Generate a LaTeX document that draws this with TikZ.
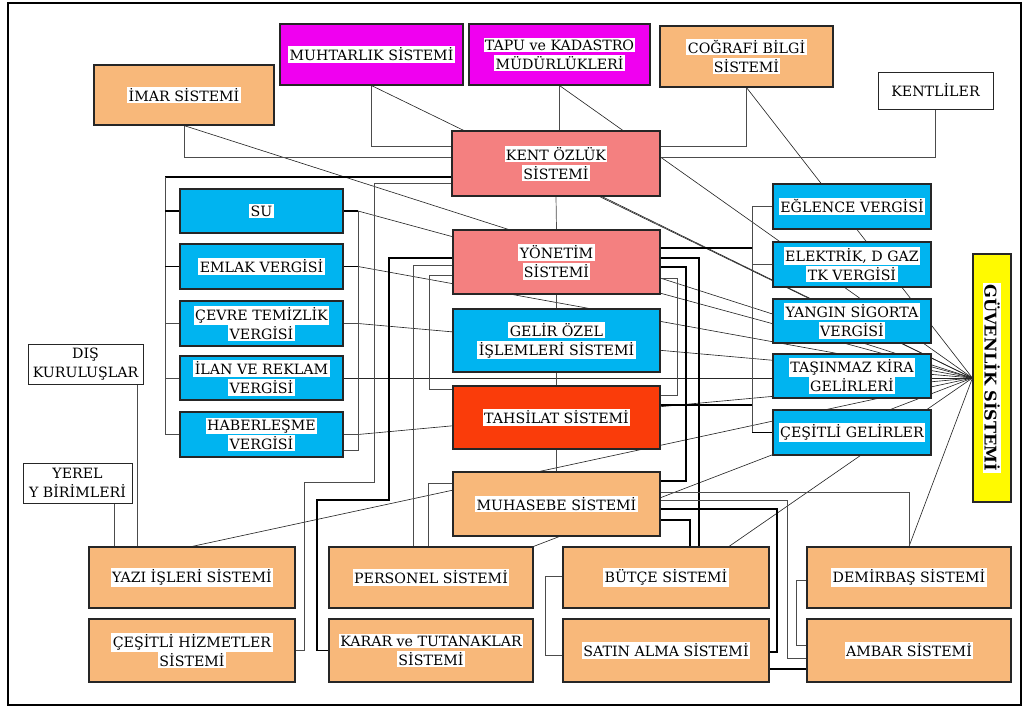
\documentclass[tikz,border=0pt]{standalone}
\usepackage{fontspec}
\setmainfont{DejaVu Serif}
\usepackage{tikz}
\usetikzlibrary{calc}
\pgfdeclarelayer{bg}
\pgfsetlayers{bg,main}
\definecolor{turuncu}{RGB}{248,184,122}
\definecolor{pembe}{RGB}{244,128,128}
\definecolor{mavi}{RGB}{0,180,240}
\definecolor{kirmizi}{RGB}{250,60,10}
\definecolor{mor}{RGB}{240,0,240}
\definecolor{sari}{RGB}{255,250,0}
\newcommand{\wb}[1]{{\setlength{\fboxsep}{1pt}\colorbox{white}{#1}}}

\begin{document}
\begin{tikzpicture}[x=0.025cm, y=-0.025cm,
  kutu/.style={draw=black!85, line width=0.8pt, align=center, inner sep=1pt,
    font=\fontsize{10.1}{13.5}\selectfont},
  wh/.style 2 args={minimum width=#1*0.025cm, minimum height=#2*0.025cm},
  turkutu/.style={kutu, fill=turuncu},
  pembekutu/.style={kutu, fill=pembe},
  mavikutu/.style={kutu, fill=mavi, line width=1pt},
  morkutu/.style={kutu, fill=mor},
  beyazkutu/.style={kutu, fill=white, line width=0.5pt},
  tel/.style={line width=0.5pt, black!70},
  kalintel/.style={line width=0.9pt, black},
  guvtel/.style={line width=0.45pt, black!85}]
  \useasboundingbox (0,0) rectangle (1025,708);
  \draw[line width=1.6pt] (8,3) rectangle (1021,705);

  % ust sira
  \node[morkutu, wh={183}{61}] (muhtar) at (371.5,54.5) {\wb{MUHTARLIK SİSTEMİ}};
  \node[morkutu, wh={181}{61}] (tapu) at (559.5,54.5) {\wb{TAPU ve KADASTRO}\\\wb{MÜDÜRLÜKLERİ}};
  \node[turkutu, wh={173}{61}] (cog) at (746.5,56.5) {\wb{COĞRAFİ BİLGİ}\\\wb{SİSTEMİ}};
  \node[beyazkutu, wh={115}{37}] (kentli) at (935.5,90.5) {KENTLİLER};
  \node[turkutu, wh={180}{60}] (imar) at (184,95) {\wb{İMAR SİSTEMİ}};

  % orta sutun
  \node[pembekutu, wh={208}{65}] (kent) at (556,163.5) {\wb{KENT ÖZLÜK}\\\wb{SİSTEMİ}};
  \node[pembekutu, wh={207}{64}] (yonetim) at (556.5,262) {\wb{YÖNETİM}\\\wb{SİSTEMİ}};
  \node[mavikutu, wh={207}{63}] (gelir) at (556.5,340.5) {\wb{GELİR ÖZEL}\\\wb{İŞLEMLERİ SİSTEMİ}};
  \node[kutu, fill=kirmizi, wh={207}{63}] (tahsilat) at (556.5,417.5) {\wb{TAHSİLAT SİSTEMİ}};
  \node[turkutu, wh={207}{64}] (muhasebe) at (556.5,504) {\wb{MUHASEBE SİSTEMİ}};

  % sol vergiler
  \node[mavikutu, wh={163}{44}] (su) at (261.5,211) {\wb{SU}};
  \node[mavikutu, wh={163}{45}] (emlak) at (261.5,266.5) {\wb{EMLAK VERGİSİ}};
  \node[mavikutu, wh={163}{45}] (cevre) at (261.5,323.5) {\wb{ÇEVRE TEMİZLİK}\\\wb{VERGİSİ}};
  \node[mavikutu, wh={163}{44}] (ilan) at (261.5,378) {\wb{İLAN VE REKLAM}\\\wb{VERGİSİ}};
  \node[mavikutu, wh={163}{45}] (hab) at (261.5,434.5) {\wb{HABERLEŞME}\\\wb{VERGİSİ}};
  \node[beyazkutu, wh={115}{40}] (dis) at (85.5,364) {DIŞ\\KURULUŞLAR};
  \node[beyazkutu, wh={109}{40}] (yerel) at (77.5,483) {YEREL\\Y BİRİMLERİ};

  % sag gelirler
  \node[mavikutu, wh={158}{45}] (eglence) at (852,206.5) {\wb{EĞLENCE VERGİSİ}};
  \node[mavikutu, wh={158}{45}] (elektrik) at (852,264.5) {\wb{ELEKTRİK, D GAZ}\\\wb{TK VERGİSİ}};
  \node[mavikutu, wh={158}{44}] (yangin) at (852,321) {\wb{YANGIN SİGORTA}\\\wb{VERGİSİ}};
  \node[mavikutu, wh={158}{44}] (tasinmaz) at (852,376) {\wb{TAŞINMAZ KİRA}\\\wb{GELİRLERİ}};
  \node[mavikutu, wh={158}{45}] (cesitli) at (852,432.5) {\wb{ÇEŞİTLİ GELİRLER}};
  \node[kutu, fill=sari, wh={38}{248}] (guv) at (992,378) {};
  \node[rotate=-90, fill=white, inner sep=1pt, font=\bfseries\fontsize{11.5}{13}\selectfont] (guvyazi) at (guv.center) {GÜVENLİK SİSTEMİ};

  % alt sira
  \node[turkutu, wh={206}{61}] (yazi) at (192,577.5) {\wb{YAZI İŞLERİ SİSTEMİ}};
  \node[turkutu, wh={206}{63}] (hizmet) at (192,650.5) {\wb{ÇEŞİTLİ HİZMETLER}\\\wb{SİSTEMİ}};
  \node[turkutu, wh={204}{61}] (pers) at (431,577.5) {\wb{PERSONEL SİSTEMİ}};
  \node[turkutu, wh={204}{63}] (karar) at (431,650.5) {\wb{KARAR ve TUTANAKLAR}\\\wb{SİSTEMİ}};
  \node[turkutu, wh={206}{61}] (butce) at (666,577.5) {\wb{BÜTÇE SİSTEMİ}};
  \node[turkutu, wh={206}{63}] (satin) at (666,650.5) {\wb{SATIN ALMA SİSTEMİ}};
  \node[turkutu, wh={204}{61}] (demir) at (909,577.5) {\wb{DEMİRBAŞ SİSTEMİ}};
  \node[turkutu, wh={204}{63}] (ambar) at (909,650.5) {\wb{AMBAR SİSTEMİ}};

  \coordinate (lb) at (165,0);
  \coordinate (rb) at (358,0);
  \coordinate (sb) at (752,0);

  \begin{pgfonlayer}{bg}
  % guvenlik hatlari
  \foreach \n/\a in {muhtar/south, tapu/south, cog/south, imar/south, yazi/north, demir/north, pers/north east}
    \draw[guvtel] (\n.\a) -- (guv.west);
  \foreach \n in {su, emlak, cevre, hab}
    \draw[guvtel] (\n.east -| rb) -- (guv.west);
  \draw[guvtel] (ilan.east) -- (guv.west);
  \draw[guvtel] ($(kent.south)+(46,0)$) -- (guv.west);
  \draw[guvtel] ($(butce.north)+(63,0)$) -- (guv.west);

  % ust baglantilar
  \draw[tel] (muhtar.south) |- (kent.west |- 0,146);
  \draw[tel] (imar.south) |- (kent.west |- 0,157);
  \draw[tel] (tapu.south) -- (tapu.south |- kent.north);
  \draw[tel] (cog.south) |- (kent.east |- 0,146);
  \draw[tel] (kentli.south) |- (kent.east |- 0,157);
  \draw[tel] (kent.south) -- (yonetim.north);
  \draw[tel] (yonetim.south) -- (gelir.north);
  \draw[tel] (gelir.south) -- (tahsilat.north);
  \draw[tel] (tahsilat.south) -- (muhasebe.north);

  % sol taraf
  \draw[kalintel] (kent.west |- 0,177) -- (lb |- 0,177);
  \draw[tel] (lb |- 0,177) |- (hab.west);
  \foreach \n in {su, emlak}
    \draw[kalintel] (\n.west) -- (\n.west -| lb);
  \foreach \n in {cevre, ilan}
    \draw[tel] (\n.west) -- (\n.west -| lb);
  \draw[tel] (su.east) -| (rb |- 0,450) -- (hab.east |- 0,450);
  \draw[kalintel] (su.east) -- (su.east -| rb);
  \draw[kalintel] (emlak.east) -- (emlak.east -| rb);
  \foreach \n in {cevre, hab}
    \draw[tel] (\n.east) -- (\n.east -| rb);
  \draw[tel] (kent.west |- 0,183) -| (374,482) -| (hizmet.east -| 304,0) -- (hizmet.east);
  \draw[kalintel] (yonetim.west |- 0,258) -| (389,500) -| (karar.west -| 317,0) -- (karar.west);
  \draw[tel] (yonetim.west |- 0,265) -| (pers.north -| 413,0);
  \draw[tel] (yonetim.west |- 0,275) -| (429,389) -- (tahsilat.west |- 0,389);
  \draw[tel] (muhasebe.west |- 0,483) -| (pers.north -| 428,0);
  \draw[tel] (dis.south -| 137,0) -- (yazi.north -| 137,0);
  \draw[tel] (yerel.south -| 114,0) -- (yazi.north -| 114,0);

  % sag taraf
  \draw[kalintel] (yonetim.east |- 0,248) -- (sb |- 0,248);
  \draw[tel] (eglence.west) -| (cesitli.west -| sb);
  \draw[kalintel] (cesitli.west -| sb) -- (cesitli.west);
  \draw[tel] (elektrik.west) -- (elektrik.west -| sb);
  \draw[kalintel] (tahsilat.east |- 0,405) -- (sb |- 0,405);
  \draw[kalintel] (yonetim.east |- 0,258) -| (butce.north -| 699,0);
  \draw[kalintel] (yonetim.east |- 0,267) -| (686,481) -- (muhasebe.east |- 0,481);
  \draw[tel] (yonetim.east |- 0,278) -| (677,395) -- (tahsilat.east |- 0,395);
  \draw[tel] (muhasebe.east |- 0,492) -| (demir.north);
  \draw[tel] (muhasebe.east |- 0,500) -| (787,658) -- (ambar.west |- 0,658);
  \draw[kalintel] (muhasebe.east |- 0,509) -| (777,652) -- (satin.east |- 0,652);
  \draw[kalintel] (muhasebe.east |- 0,520) -| (butce.north -| 690,0);
  \draw[tel] (butce.west |- 0,576) -| (545,655) -- (satin.west |- 0,655);
  \draw[tel] (demir.west |- 0,580) -| (796,645) -- (ambar.west |- 0,645);
  \draw[kalintel] (satin.east |- 0,669) -- (ambar.west |- 0,669);
  \end{pgfonlayer}
\end{tikzpicture}
\end{document}
